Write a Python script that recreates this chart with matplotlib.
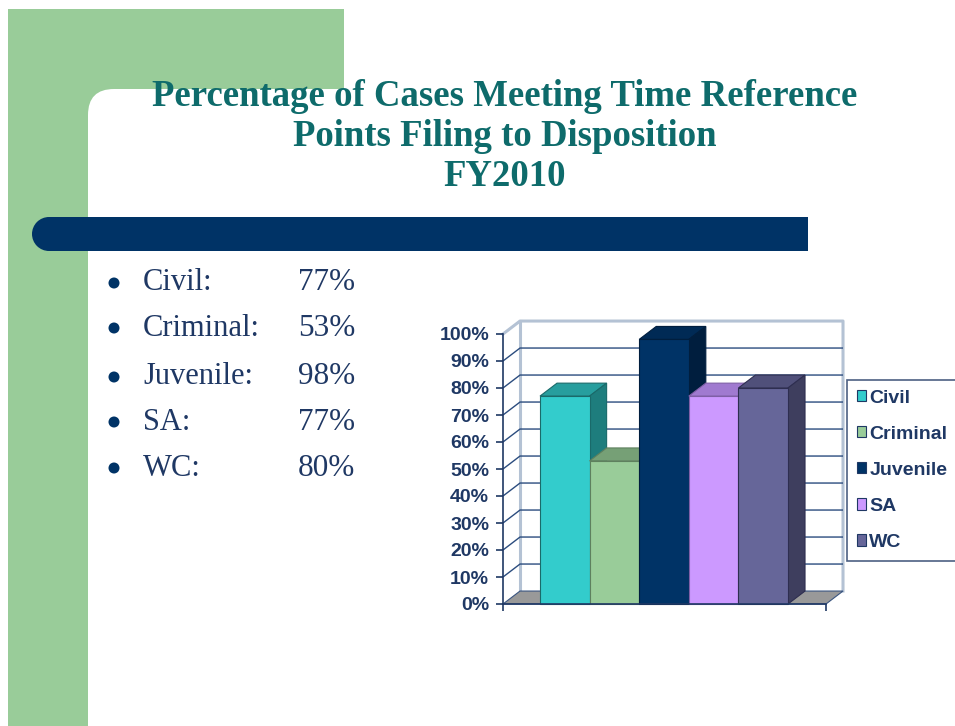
import matplotlib
matplotlib.use("Agg")
import matplotlib.pyplot as plt
from matplotlib.patches import Rectangle, Polygon, Circle, FancyBboxPatch

# ---------------- data ----------------
categories = ["Civil", "Criminal", "Juvenile", "SA", "WC"]
values = [77, 53, 98, 77, 80]
y_ticks = [0, 10, 20, 30, 40, 50, 60, 70, 80, 90, 100]
y_tick_labels = [f"{t}%" for t in y_ticks]
title_lines = ["Percentage of Cases Meeting Time Reference",
               "Points Filing to Disposition",
               "FY2010"]

# ---------------- style ----------------
W, H = 955, 726
front_colors = ["#33CCCC", "#99CC99", "#003366", "#CC99FF", "#666699"]
top_colors = ["#279E9E", "#76A076", "#002A55", "#A07AD0", "#50507A"]
side_colors = ["#1E7D7D", "#5E805E", "#001E3E", "#7F5FA6", "#3E3E5E"]
edge_colors = ["#1A6A6A", "#5E805E", "#001E3E", "#7F5FA6", "#2E2E50"]
navy = "#1F3864"
title_color = "#0E6B6B"
green = "#99CC99"
bar_navy = "#003366"

fig = plt.figure(figsize=(W / 100, H / 100), dpi=100)
fig.patch.set_facecolor("white")

# ---------------- slide background ----------------
bg = fig.add_axes([0, 0, 1, 1], zorder=0)
bg.set_xlim(0, W)
bg.set_ylim(H, 0)
bg.axis("off")
bg.add_patch(Rectangle((8, 9), 336, 110, facecolor=green, edgecolor="none"))
bg.add_patch(Rectangle((8, 9), 80, H, facecolor=green, edgecolor="none"))
bg.add_patch(FancyBboxPatch((88, 89), 1000, 800,
                            boxstyle="round,pad=0,rounding_size=26",
                            facecolor="white", edgecolor="none"))
# navy rule
bg.add_patch(Rectangle((49, 217), 759, 34, facecolor=bar_navy, edgecolor="none"))
bg.add_patch(Circle((49, 234), 17, facecolor=bar_navy, edgecolor="none"))

# title
for line, yc in zip(title_lines, [97, 137, 177]):
    bg.text(505, yc, line, ha="center", va="center", color=title_color,
            fontsize=26.5, fontweight="bold", family="Liberation Serif")

# bullet list
row_y = [283, 328, 377, 422, 468]
for cat, v, yc in zip(categories, values, row_y):
    bg.add_patch(Circle((114, yc), 5.5, facecolor=bar_navy, edgecolor="none"))
    bg.text(143, yc, f"{cat}:", ha="left", va="center", color=navy,
            fontsize=22, family="Liberation Serif")
    bg.text(298, yc, f"{v}%", ha="left", va="center", color=navy,
            fontsize=22.5, family="Liberation Serif")

# ---------------- 3D-style column chart ----------------
ax = fig.add_axes([503 / W, 1 - 604 / H, 323 / W, 270 / H], zorder=2)
ax.patch.set_alpha(0)
x0, x1 = -1.246, 5.266
ax.set_xlim(x0, x1)
ax.set_ylim(0, 100)
dx, dy = 0.343, 4.8  # depth offset in data units

grid_c = "#2B4C7E"
wall_edge = "#B4C2D4"

# walls
ax.add_patch(Polygon([(x0 + dx, dy), (x1 + dx, dy), (x1 + dx, 100 + dy), (x0 + dx, 100 + dy)],
                     closed=True, facecolor="white", edgecolor="none", clip_on=False, zorder=1))
ax.add_patch(Polygon([(x0, 0), (x0 + dx, dy), (x0 + dx, 100 + dy), (x0, 100)],
                     closed=True, facecolor="white", edgecolor="none", clip_on=False, zorder=1))
for t in y_ticks[1:-1]:
    ax.plot([x0, x0 + dx, x1 + dx], [t, t + dy, t + dy], color=grid_c, lw=1,
            clip_on=False, zorder=1.5, solid_capstyle="butt")
ax.plot([x0, x0 + dx, x1 + dx, x1 + dx], [100, 100 + dy, 100 + dy, dy], color=wall_edge,
        lw=2.2, clip_on=False, zorder=1.4)
ax.plot([x0 + dx, x0 + dx], [dy, 100 + dy], color=wall_edge, lw=2.2, clip_on=False, zorder=1.4)

# floor
ax.add_patch(Polygon([(x0, 0), (x1, 0), (x1 + dx, dy), (x0 + dx, dy)], closed=True,
                     facecolor="#999999", edgecolor="#3A5580", lw=0.8, clip_on=False, zorder=2))

# bars
for i, (cat, v) in enumerate(zip(categories, values)):
    z = 3 + i * 0.1
    ax.bar(i, v, width=1.0, color=front_colors[i], edgecolor=edge_colors[i], linewidth=0.8,
           label=cat, zorder=z + 0.02, clip_on=False)
    ax.add_patch(Polygon([(i - 0.5, v), (i + 0.5, v), (i + 0.5 + dx, v + dy), (i - 0.5 + dx, v + dy)],
                         closed=True, facecolor=top_colors[i], edgecolor=edge_colors[i], lw=0.8,
                         clip_on=False, zorder=z))
    ax.add_patch(Polygon([(i + 0.5, 0), (i + 0.5 + dx, dy), (i + 0.5 + dx, v + dy), (i + 0.5, v)],
                         closed=True, facecolor=side_colors[i], edgecolor=edge_colors[i], lw=0.8,
                         clip_on=False, zorder=z))

# axes styling
for s in ["top", "right"]:
    ax.spines[s].set_visible(False)
for s in ["left", "bottom"]:
    ax.spines[s].set_color(navy)
    ax.spines[s].set_linewidth(1.2)
    ax.spines[s].set_zorder(5)
ax.set_yticks(y_ticks)
ax.set_yticklabels(y_tick_labels)
ax.tick_params(axis="y", direction="out", length=5, width=1.2, color=navy, pad=5,
               labelcolor=navy, labelsize=14)
for lab in ax.get_yticklabels():
    lab.set_fontweight("bold")
    lab.set_family("Liberation Sans")
ax.set_xticks([x0, x1])
ax.set_xticklabels(["", ""])
ax.tick_params(axis="x", direction="out", length=5, width=1.2, color=navy)

# legend
leg = ax.legend(loc="upper left", bbox_to_anchor=(847 / W, 1 - 380 / H),
                bbox_transform=fig.transFigure, frameon=True, fancybox=False,
                handlelength=0.5, handleheight=0.5, handletextpad=0.15,
                labelspacing=0.98, borderpad=0.5, borderaxespad=0,
                prop={"family": "Liberation Sans", "weight": "bold", "size": 14})
leg.get_frame().set_edgecolor(navy)
leg.get_frame().set_linewidth(1.2)
for t in leg.get_texts():
    t.set_color(navy)
for hndl in leg.legend_handles:
    hndl.set_edgecolor(navy)

fig.savefig("out.png", dpi=100)
